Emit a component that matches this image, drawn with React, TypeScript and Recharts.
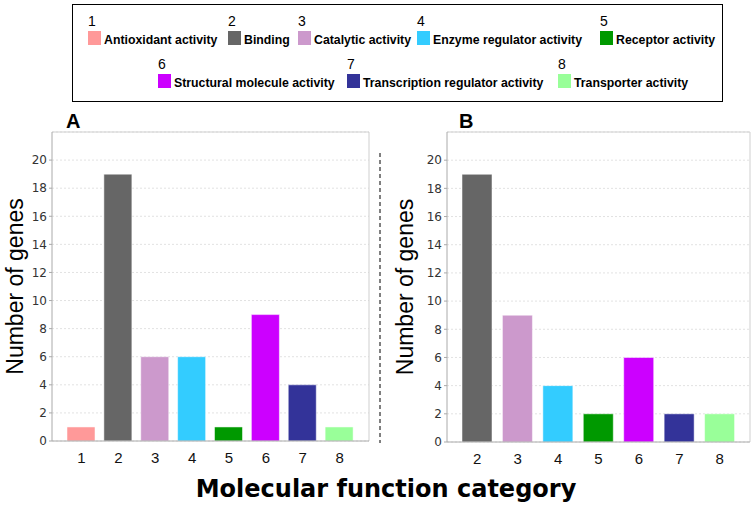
import { BarChart, Bar, XAxis, YAxis, CartesianGrid, Cell, Label } from 'recharts'

// molecular function categories (legend order)
const categoryNames = [
    'Antioxidant activity',
    'Binding',
    'Catalytic activity',
    'Enzyme regulator activity',
    'Receptor activity',
    'Structural molecule activity',
    'Transcription regulator activity',
    'Transporter activity',
]
const categoryColors = ['#FF9999', '#666666', '#CC99CC', '#33CCFF', '#009900', '#CC00FF', '#333399', '#99FF99']

// panel A
const categoriesA = ['1', '2', '3', '4', '5', '6', '7', '8']
const genesA = [1, 19, 6, 6, 1, 9, 4, 1]

// panel B
const categoriesB = ['2', '3', '4', '5', '6', '7', '8']
const genesB = [19, 9, 4, 2, 6, 2, 2]

const yTicks = [0, 2, 4, 6, 8, 10, 12, 14, 16, 18, 20]

// legend layout: swatch left edge and row
const legendSpots = [
    { x: 88, row: 0 }, { x: 228, row: 0 }, { x: 298, row: 0 }, { x: 417, row: 0 }, { x: 600, row: 0 },
    { x: 158, row: 1 }, { x: 347, row: 1 }, { x: 558, row: 1 },
]

const ARIAL = "'Liberation Sans', Arial, sans-serif"
const VERDANA = "'DejaVu Sans', Verdana, sans-serif"

// plot frame: top and right edges of the plot area
const frameTop = ({ offset }: any) => [offset.top]
const frameRight = ({ offset }: any) => [offset.left + offset.width]

const Panel = ({ cats, values, left, yWidth, right, bottom, pad, barSize, labelOffset }: any) => {
    const data = cats.map((c: string, i: number) => ({ cat: c, genes: values[i] }))
    return (
        <div style={{ position: 'absolute', left, top: 0 }}>
            <BarChart width={375} height={508} data={data} margin={{ top: 132, right, left: 0, bottom }}>
                <CartesianGrid vertical={false} stroke="#e2e2e2" strokeDasharray="2 2" />
                <CartesianGrid stroke="#cfcfcf" horizontalCoordinatesGenerator={frameTop} verticalCoordinatesGenerator={frameRight} />
                <XAxis dataKey="cat" height={30} padding={{ left: pad, right: pad }} tickLine={false} tickSize={6} tickMargin={5}
                    axisLine={{ stroke: '#aaa' }} tick={{ fill: '#111', fontSize: 15, fontFamily: ARIAL }} interval={0} />
                <YAxis domain={[0, 22]} ticks={yTicks} width={yWidth} tickSize={3} tickMargin={2} interval={0}
                    axisLine={{ stroke: '#aaa' }} tickLine={{ stroke: '#aaa' }}
                    tick={{ fill: '#333', fontSize: 12, fontFamily: VERDANA }}>
                    <Label value="Number of genes" angle={-90} position="insideLeft" offset={labelOffset}
                        style={{ textAnchor: 'middle', fontSize: 23, fontFamily: ARIAL, fill: '#000' }} />
                </YAxis>
                <Bar dataKey="genes" barSize={barSize} isAnimationActive={false} stroke="#fff" strokeOpacity={0.5}>
                    {data.map((d: any) => (
                        <Cell key={d.cat} fill={categoryColors[Number(d.cat) - 1]} />
                    ))}
                </Bar>
            </BarChart>
        </div>
    )
}

const App = () => {
    return (
        <div style={{ position: 'absolute', left: 0, top: 0, width: 755, height: 508, background: '#fff', overflow: 'hidden' }}>
            <Panel cats={categoriesA} values={genesA} left={0} yWidth={52} right={6} bottom={37} pad={11} barSize={28} labelOffset={15} />
            <Panel cats={categoriesB} values={genesB} left={380} yWidth={67} right={5} bottom={36} pad={10} barSize={30} labelOffset={25} />

            <svg width={755} height={508} style={{ position: 'absolute', left: 0, top: 0, pointerEvents: 'none' }}>
                {/* legend box */}
                <rect x={72.5} y={4.5} width={650} height={97} fill="none" stroke="#000" strokeWidth={1} />
                {categoryNames.map((name, i) => {
                    const spot = legendSpots[i]
                    const y0 = spot.row * 43
                    return (
                        <g key={name}>
                            <text x={spot.x} y={y0 + 26} fontSize={14} fontFamily={ARIAL} fill="#000">{i + 1}</text>
                            <rect x={spot.x} y={y0 + 31} width={13} height={14} fill={categoryColors[i]} />
                            <text x={spot.x + 16} y={y0 + 44} fontSize={12.3} fontWeight="bold" fontFamily={ARIAL} fill="#000">{name}</text>
                        </g>
                    )
                })}

                {/* panel letters */}
                <text x={66} y={128} fontSize={20} fontWeight="bold" fontFamily={ARIAL}>A</text>
                <text x={459} y={128} fontSize={20} fontWeight="bold" fontFamily={ARIAL}>B</text>

                {/* divider */}
                <line x1={380} y1={153} x2={380} y2={443} stroke="#000" strokeDasharray="4 3" />

                {/* shared x title */}
                <text x={386} y={497} textAnchor="middle" fontSize={24} fontWeight="bold" fontFamily={VERDANA}>Molecular function category</text>
            </svg>
        </div>
    )
}

export default App
